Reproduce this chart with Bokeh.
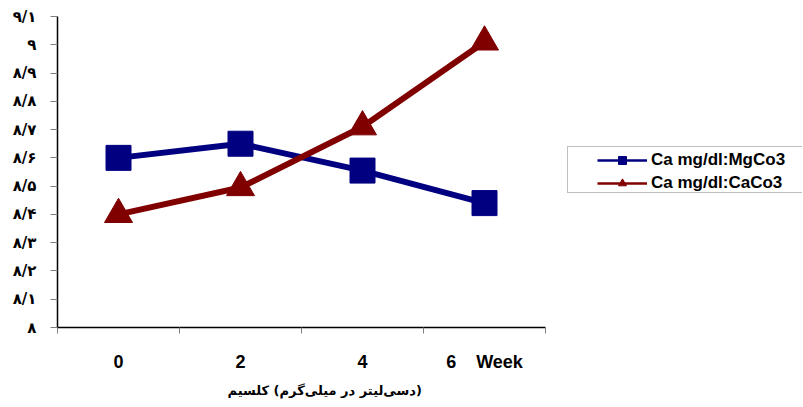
from bokeh.plotting import figure
from bokeh.models import Range1d, FixedTicker, Legend, LegendItem, Title
from bokeh.embed import file_html
from bokeh.resources import INLINE

# ---- data ----
weeks = ["0", "2", "4", "6"]
week_unit = "Week"
mgco3 = [8.60, 8.65, 8.555, 8.44]
caco3 = [8.40, 8.495, 8.71, 9.01]
series_names = ["Ca mg/dl:MgCo3", "Ca mg/dl:CaCo3"]
y_ticks = [8.0, 8.1, 8.2, 8.3, 8.4, 8.5, 8.6, 8.7, 8.8, 8.9, 9.0, 9.1]
y_tick_labels = ["۸", "۸/۱", "۸/۲", "۸/۳", "۸/۴", "۸/۵", "۸/۶", "۸/۷", "۸/۸", "۸/۹", "۹", "۹/۱"]
# axis title, written so that it shows in the same visual word order as the chart
x_title = "\u200f(دسی\u200cلیتر در میلی\u200cگرم) کلسیم"

BLUE = "#000080"
RED = "#800000"

# ---- layout (pixels) ----
W, H = 803, 407
LEFT, TOP, RIGHT, BOTTOM = 57, 16, 1, 80
CAT_PX = 122  # width of one category slot
frame_w = W - LEFT - RIGHT

n = len(weeks)
x_pos = [i + 0.5 for i in range(n)]
x_bounds = [i for i in range(n + 1)]
x_labels = list(weeks)
x_labels[-1] = weeks[-1] + "\u00a0\u00a0\u00a0\u00a0" + week_unit

p = figure(width=W, height=H, output_backend="svg", toolbar_location=None,
           x_range=Range1d(0, frame_w / CAT_PX), y_range=Range1d(y_ticks[0], y_ticks[-1]),
           min_border_left=LEFT, min_border_right=RIGHT, min_border_top=TOP,
           min_border_bottom=BOTTOM)
p.outline_line_color = None
p.xgrid.visible = False
p.ygrid.visible = False
p.background_fill_color = "white"
p.border_fill_color = "white"

# y axis
ya = p.yaxis[0]
ya.ticker = FixedTicker(ticks=y_ticks, minor_ticks=[])
ya.major_label_overrides = {t: l for t, l in zip(y_ticks, y_tick_labels)}
ya.major_label_text_font = "DejaVu Sans"
ya.major_label_text_font_style = "bold"
ya.major_label_text_font_size = "15px"
ya.major_label_text_color = "black"
ya.major_tick_out = 7
ya.major_tick_in = 0
ya.major_tick_line_color = "#808080"
ya.major_label_standoff = 14
ya.axis_line_color = "black"
ya.axis_line_width = 1.5

# x axis
xa = p.xaxis[0]
xa.bounds = (0, n)
xa.ticker = FixedTicker(ticks=x_pos, minor_ticks=x_bounds)
xa.major_label_overrides = {t: l for t, l in zip(x_pos, x_labels)}
xa.major_tick_line_color = None
xa.major_tick_out = 0
xa.major_tick_in = 0
xa.minor_tick_out = 6
xa.minor_tick_in = 0
xa.minor_tick_line_color = "#808080"
xa.major_label_standoff = 18
xa.major_label_text_font = "Liberation Sans"
xa.major_label_text_font_style = "bold"
xa.major_label_text_font_size = "18px"
xa.major_label_text_color = "black"
xa.axis_line_color = "black"
xa.axis_line_width = 1.5

# axis title as a left-aligned title below the axis
ttl = Title(text=x_title, align="left", offset=170, standoff=13,
            text_font="DejaVu Sans", text_font_style="bold", text_font_size="13px",
            text_color="black")
p.add_layout(ttl, "below")

# legend proxies (thin lines, small markers) drawn first, hidden under the thick series
lb_line = p.line(x_pos, mgco3, line_color=BLUE, line_width=2.5)
lb_pt = p.scatter(x_pos, mgco3, marker="square", size=8, fill_color=BLUE, line_color=BLUE)
lr_line = p.line(x_pos, caco3, line_color=RED, line_width=2.5)
lr_pt = p.scatter(x_pos, caco3, marker="triangle", size=8, fill_color=RED, line_color=RED)

# series
bl = p.line(x_pos, mgco3, line_color=BLUE, line_width=6)
bs = p.scatter(x_pos, mgco3, marker="square", size=25, fill_color=BLUE, line_color=BLUE)
rl = p.line(x_pos, caco3, line_color=RED, line_width=6)
rs = p.scatter(x_pos, caco3, marker="triangle", size=28, fill_color=RED, line_color=RED)

dummy = p.line([], [], line_alpha=0)

box = Legend(items=[LegendItem(label=" ", renderers=[dummy])], location=(510, 134),
             padding=0, margin=0, spacing=0, glyph_width=1, glyph_height=45, label_height=45,
             label_width=234, label_standoff=0, border_line_color="#808080", border_line_width=1,
             background_fill_color="white", background_fill_alpha=1, label_text_alpha=0)
p.add_layout(box)

leg = Legend(items=[LegendItem(label=series_names[0], renderers=[lb_line, lb_pt]),
                    LegendItem(label=series_names[1], renderers=[lr_line, lr_pt])],
             location=(540, 134), padding=0, margin=0, spacing=3, glyph_width=50,
             glyph_height=20, label_height=20, label_standoff=4, border_line_color=None,
             background_fill_alpha=0, label_text_font="Liberation Sans",
             label_text_font_style="bold", label_text_font_size="17px", label_text_color="black")
p.add_layout(leg)

open("out.html", "w").write(file_html(p, INLINE))
